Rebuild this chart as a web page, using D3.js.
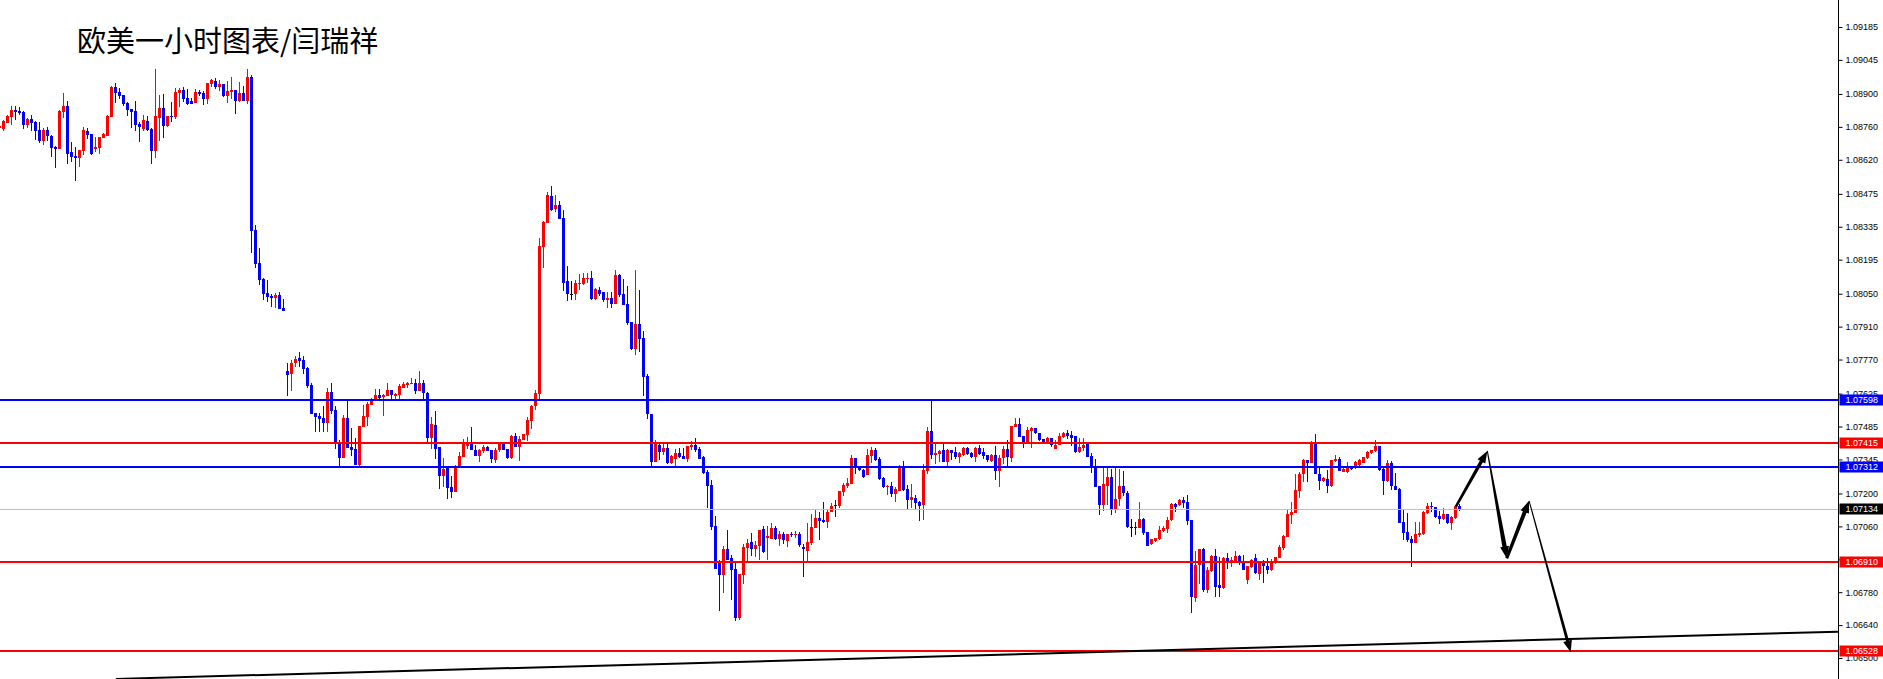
<!DOCTYPE html>
<html><head><meta charset="utf-8">
<script src="https://cdn.jsdelivr.net/npm/d3@7"></script>
<style>html,body{margin:0;padding:0;background:#fff;overflow:hidden}</style>
</head><body><svg id="c" width="1883" height="679"></svg>
<script>
// ---- data (EURUSD H1) ----
const opens=[
1.08755,1.08752,1.08778,1.08803,1.08832,1.08828,1.08823,1.08768,1.08794,1.08781,
1.08747,1.08700,1.08747,1.08721,1.08674,1.08666,1.08823,1.08849,1.08653,1.08636,
1.08628,1.08657,1.08743,1.08730,1.08666,1.08670,1.08713,1.08721,1.08802,1.08930,
1.08909,1.08896,1.08862,1.08836,1.08828,1.08772,1.08751,1.08785,1.08751,1.08657,
1.08798,1.08840,1.08764,1.08806,1.08802,1.08904,1.08917,1.08883,1.08870,1.08862,
1.08909,1.08904,1.08879,1.08943,1.08955,1.08930,1.08943,1.08891,1.08909,1.08917,
1.08870,1.08904,1.08870,1.08972,1.08321,1.08181,1.08113,1.08053,1.08040,1.08032,
1.08045,1.07989,1.07721,1.07709,1.07755,1.07777,1.07768,1.07734,1.07662,1.07543,
1.07530,1.07521,1.07500,1.07632,1.07555,1.07419,1.07351,1.07521,1.07398,1.07389,
1.07321,1.07483,1.07526,1.07577,1.07598,1.07619,1.07611,1.07615,1.07640,1.07615,
1.07619,1.07649,1.07662,1.07666,1.07670,1.07636,1.07670,1.07628,1.07436,1.07492,
1.07398,1.07274,1.07309,1.07228,1.07206,1.07313,1.07355,1.07402,1.07419,1.07385,
1.07359,1.07381,1.07398,1.07385,1.07343,1.07385,1.07415,1.07389,1.07351,1.07445,
1.07398,1.07428,1.07449,1.07509,1.07572,1.07623,1.08249,1.08351,1.08466,1.08411,
1.08428,1.08372,1.08104,1.08049,1.08049,1.08091,1.08091,1.08113,1.08117,1.08028,
1.08066,1.08057,1.08023,1.08032,1.08006,1.08130,1.08049,1.08006,1.07930,1.07815,
1.07921,1.07862,1.07700,1.07538,1.07334,1.07406,1.07377,1.07394,1.07330,1.07347,
1.07372,1.07359,1.07347,1.07398,1.07406,1.07389,1.07355,1.07292,1.07236,1.07062,
1.06904,1.06853,1.06964,1.06926,1.06879,1.06670,1.06853,1.06968,1.06994,1.06964,
1.06977,1.07049,1.07011,1.07006,1.07053,1.07006,1.07028,1.06998,1.07028,1.07023,
1.07028,1.06972,1.06955,1.06989,1.07053,1.07096,1.07087,1.07079,1.07121,1.07151,
1.07147,1.07206,1.07232,1.07240,1.07351,1.07309,1.07300,1.07279,1.07359,1.07385,
1.07347,1.07266,1.07228,1.07232,1.07198,1.07211,1.07317,1.07219,1.07172,1.07181,
1.07164,1.07151,1.07296,1.07466,1.07364,1.07368,1.07385,1.07334,1.07385,1.07377,
1.07355,1.07364,1.07394,1.07372,1.07355,1.07394,1.07377,1.07364,1.07338,1.07364,
1.07296,1.07351,1.07389,1.07351,1.07483,1.07496,1.07445,1.07419,1.07466,1.07479,
1.07457,1.07432,1.07415,1.07436,1.07389,1.07406,1.07440,1.07457,1.07449,1.07445,
1.07377,1.07394,1.07411,1.07359,1.07309,1.07232,1.07151,1.07232,1.07270,1.07130,
1.07177,1.07232,1.07202,1.07057,1.07057,1.07053,1.07092,1.07036,1.06985,1.06998,
1.07006,1.07040,1.07049,1.07087,1.07155,1.07151,1.07172,1.07164,1.07087,1.06755,
1.06896,1.06964,1.06789,1.06870,1.06934,1.06811,1.06798,1.06926,1.06909,1.06913,
1.06934,1.06909,1.06832,1.06887,1.06926,1.06857,1.06904,1.06892,1.06874,1.06904,
1.06926,1.06968,1.07015,1.07109,1.07117,1.07211,1.07283,1.07343,1.07330,1.07411,
1.07283,1.07253,1.07262,1.07232,1.07338,1.07347,1.07292,1.07292,1.07317,1.07309,
1.07321,1.07330,1.07351,1.07372,1.07381,1.07402,1.07304,1.07253,1.07330,1.07232,
1.07219,1.07079,1.07036,1.07006,1.06989,1.07023,1.07028,1.07117,1.07147,1.07143,
1.07104,1.07092,1.07113,1.07075,1.07096,1.07147];
const highs=[
1.08768,1.08789,1.08809,1.08849,1.08849,1.08845,1.08828,1.08798,1.08811,1.08785,
1.08781,1.08755,1.08760,1.08726,1.08679,1.08832,1.08904,1.08870,1.08696,1.08674,
1.08662,1.08760,1.08755,1.08730,1.08717,1.08717,1.08734,1.08811,1.08934,1.08947,
1.08926,1.08896,1.08866,1.08836,1.08870,1.08781,1.08811,1.08806,1.08755,1.09006,
1.08896,1.08900,1.08806,1.08866,1.08926,1.08926,1.08930,1.08921,1.08883,1.08921,
1.08917,1.08913,1.08947,1.08964,1.08968,1.08960,1.08943,1.08955,1.08972,1.08917,
1.08951,1.08934,1.09006,1.08981,1.08343,1.08245,1.08117,1.08109,1.08049,1.08053,
1.08057,1.08028,1.07757,1.07768,1.07785,1.07802,1.07785,1.07738,1.07670,1.07543,
1.07543,1.07572,1.07649,1.07670,1.07572,1.07428,1.07534,1.07594,1.07479,1.07436,
1.07487,1.07577,1.07589,1.07606,1.07645,1.07645,1.07623,1.07670,1.07640,1.07628,
1.07666,1.07674,1.07674,1.07692,1.07687,1.07721,1.07683,1.07632,1.07526,1.07551,
1.07398,1.07351,1.07309,1.07274,1.07321,1.07377,1.07432,1.07440,1.07483,1.07406,
1.07389,1.07406,1.07402,1.07385,1.07394,1.07415,1.07419,1.07389,1.07449,1.07457,
1.07445,1.07453,1.07526,1.07577,1.07640,1.08287,1.08360,1.08483,1.08509,1.08470,
1.08445,1.08406,1.08168,1.08104,1.08109,1.08134,1.08138,1.08138,1.08147,1.08074,
1.08079,1.08057,1.08057,1.08057,1.08151,1.08134,1.08113,1.08083,1.07930,1.08151,
1.08066,1.07891,1.07709,1.07538,1.07428,1.07419,1.07419,1.07419,1.07364,1.07389,
1.07394,1.07394,1.07402,1.07423,1.07436,1.07398,1.07359,1.07300,1.07257,1.07104,
1.06917,1.06977,1.07045,1.06938,1.06904,1.06857,1.06985,1.07006,1.07032,1.06998,
1.07045,1.07062,1.07062,1.07075,1.07062,1.07040,1.07036,1.07028,1.07036,1.07040,
1.07036,1.06985,1.07075,1.07113,1.07130,1.07121,1.07164,1.07134,1.07160,1.07172,
1.07211,1.07245,1.07266,1.07364,1.07351,1.07317,1.07304,1.07389,1.07398,1.07394,
1.07355,1.07270,1.07236,1.07249,1.07228,1.07321,1.07338,1.07236,1.07240,1.07194,
1.07168,1.07326,1.07483,1.07602,1.07411,1.07385,1.07419,1.07389,1.07385,1.07398,
1.07377,1.07398,1.07398,1.07377,1.07398,1.07406,1.07394,1.07364,1.07368,1.07402,
1.07364,1.07402,1.07428,1.07487,1.07521,1.07521,1.07445,1.07483,1.07483,1.07479,
1.07457,1.07432,1.07440,1.07436,1.07428,1.07457,1.07462,1.07470,1.07466,1.07445,
1.07436,1.07436,1.07419,1.07372,1.07347,1.07232,1.07309,1.07309,1.07304,1.07309,
1.07304,1.07296,1.07211,1.07092,1.07079,1.07164,1.07096,1.07036,1.07006,1.07011,
1.07062,1.07062,1.07100,1.07160,1.07160,1.07177,1.07185,1.07194,1.07087,1.06955,
1.06964,1.06968,1.06887,1.06938,1.06964,1.06930,1.06930,1.06947,1.06930,1.06955,
1.06938,1.06938,1.06892,1.06921,1.06943,1.06913,1.06917,1.06926,1.06921,1.06930,
1.06981,1.07023,1.07134,1.07164,1.07283,1.07292,1.07347,1.07343,1.07423,1.07453,
1.07317,1.07270,1.07300,1.07343,1.07364,1.07355,1.07309,1.07334,1.07317,1.07338,
1.07347,1.07355,1.07381,1.07385,1.07428,1.07402,1.07309,1.07343,1.07338,1.07287,
1.07223,1.07134,1.07117,1.07019,1.07079,1.07079,1.07126,1.07160,1.07164,1.07143,
1.07126,1.07138,1.07113,1.07104,1.07151,1.07155];
const lows=[
1.08747,1.08743,1.08777,1.08768,1.08789,1.08811,1.08751,1.08755,1.08743,1.08704,
1.08691,1.08683,1.08700,1.08632,1.08585,1.08666,1.08798,1.08602,1.08611,1.08530,
1.08589,1.08640,1.08709,1.08640,1.08653,1.08645,1.08713,1.08721,1.08802,1.08862,
1.08879,1.08849,1.08806,1.08755,1.08743,1.08696,1.08743,1.08743,1.08602,1.08628,
1.08700,1.08713,1.08760,1.08781,1.08794,1.08845,1.08866,1.08853,1.08857,1.08862,
1.08891,1.08853,1.08857,1.08930,1.08921,1.08913,1.08887,1.08862,1.08879,1.08815,
1.08866,1.08870,1.08857,1.08223,1.08160,1.08087,1.08023,1.08015,1.07994,1.07989,
1.07985,1.07977,1.07615,1.07636,1.07738,1.07738,1.07709,1.07649,1.07538,1.07462,
1.07462,1.07462,1.07462,1.07538,1.07389,1.07313,1.07351,1.07394,1.07359,1.07321,
1.07313,1.07483,1.07487,1.07577,1.07598,1.07602,1.07530,1.07615,1.07602,1.07602,
1.07602,1.07649,1.07649,1.07666,1.07623,1.07636,1.07598,1.07419,1.07389,1.07347,
1.07219,1.07228,1.07177,1.07181,1.07206,1.07313,1.07355,1.07389,1.07385,1.07359,
1.07334,1.07372,1.07381,1.07330,1.07330,1.07377,1.07385,1.07347,1.07347,1.07398,
1.07338,1.07428,1.07423,1.07474,1.07555,1.07598,1.08160,1.08351,1.08402,1.08398,
1.08368,1.08062,1.08019,1.08023,1.08023,1.08066,1.08087,1.08096,1.08023,1.08023,
1.08040,1.08015,1.07989,1.07989,1.08006,1.08036,1.08002,1.07917,1.07811,1.07789,
1.07800,1.07615,1.07517,1.07313,1.07334,1.07343,1.07364,1.07326,1.07326,1.07313,
1.07351,1.07347,1.07334,1.07385,1.07377,1.07347,1.07283,1.07138,1.07045,1.06879,
1.06700,1.06777,1.06917,1.06747,1.06657,1.06662,1.06815,1.06913,1.06934,1.06930,
1.06917,1.06947,1.06917,1.07006,1.07002,1.06977,1.06985,1.06972,1.07015,1.07011,
1.06972,1.06845,1.06904,1.06981,1.07053,1.07002,1.07075,1.07053,1.07121,1.07100,
1.07138,1.07189,1.07223,1.07240,1.07283,1.07296,1.07266,1.07279,1.07330,1.07338,
1.07257,1.07223,1.07194,1.07185,1.07164,1.07211,1.07211,1.07130,1.07138,1.07130,
1.07083,1.07087,1.07283,1.07347,1.07326,1.07334,1.07334,1.07313,1.07343,1.07347,
1.07330,1.07359,1.07364,1.07351,1.07334,1.07364,1.07347,1.07334,1.07334,1.07257,
1.07228,1.07326,1.07313,1.07334,1.07483,1.07440,1.07394,1.07419,1.07394,1.07453,
1.07423,1.07415,1.07411,1.07398,1.07389,1.07406,1.07436,1.07432,1.07402,1.07372,
1.07372,1.07381,1.07355,1.07287,1.07228,1.07109,1.07126,1.07151,1.07109,1.07117,
1.07147,1.07189,1.07053,1.07015,1.07023,1.07053,1.07023,1.06977,1.06981,1.06994,
1.07002,1.07036,1.07032,1.07083,1.07121,1.07147,1.07138,1.07066,1.06692,1.06738,
1.06815,1.06781,1.06777,1.06866,1.06760,1.06760,1.06794,1.06879,1.06887,1.06909,
1.06896,1.06874,1.06815,1.06883,1.06857,1.06832,1.06819,1.06857,1.06870,1.06900,
1.06926,1.06960,1.07015,1.07070,1.07117,1.07181,1.07249,1.07249,1.07330,1.07283,
1.07215,1.07249,1.07202,1.07228,1.07334,1.07296,1.07292,1.07287,1.07300,1.07304,
1.07317,1.07330,1.07347,1.07368,1.07377,1.07296,1.07194,1.07249,1.07215,1.07215,
1.07075,1.07002,1.06994,1.06887,1.06989,1.07015,1.07023,1.07113,1.07121,1.07096,
1.07070,1.07087,1.07070,1.07045,1.07092,1.07126];
const closes=[
1.08764,1.08785,1.08806,1.08832,1.08823,1.08819,1.08768,1.08794,1.08777,1.08743,
1.08700,1.08747,1.08721,1.08670,1.08666,1.08828,1.08849,1.08645,1.08632,1.08628,
1.08662,1.08747,1.08726,1.08645,1.08674,1.08717,1.08730,1.08806,1.08930,1.08904,
1.08891,1.08857,1.08832,1.08823,1.08768,1.08760,1.08789,1.08747,1.08657,1.08806,
1.08840,1.08764,1.08806,1.08802,1.08909,1.08917,1.08879,1.08857,1.08857,1.08909,
1.08900,1.08879,1.08947,1.08960,1.08930,1.08943,1.08891,1.08913,1.08917,1.08870,
1.08904,1.08870,1.08972,1.08317,1.08177,1.08109,1.08049,1.08036,1.08032,1.08045,
1.07985,1.07977,1.07704,1.07756,1.07772,1.07764,1.07730,1.07657,1.07538,1.07526,
1.07517,1.07500,1.07632,1.07551,1.07411,1.07351,1.07521,1.07394,1.07385,1.07321,
1.07487,1.07530,1.07581,1.07602,1.07619,1.07606,1.07619,1.07640,1.07619,1.07623,
1.07657,1.07666,1.07670,1.07670,1.07636,1.07670,1.07628,1.07436,1.07496,1.07389,
1.07274,1.07304,1.07223,1.07206,1.07309,1.07359,1.07415,1.07419,1.07385,1.07359,
1.07385,1.07398,1.07381,1.07347,1.07385,1.07415,1.07385,1.07351,1.07445,1.07398,
1.07432,1.07453,1.07513,1.07572,1.07628,1.08253,1.08355,1.08470,1.08406,1.08428,
1.08368,1.08096,1.08049,1.08049,1.08096,1.08096,1.08117,1.08117,1.08028,1.08070,
1.08049,1.08023,1.08032,1.08006,1.08130,1.08045,1.08002,1.07926,1.07815,1.07921,
1.07857,1.07696,1.07538,1.07334,1.07411,1.07377,1.07394,1.07330,1.07359,1.07372,
1.07355,1.07347,1.07402,1.07406,1.07385,1.07347,1.07287,1.07232,1.07057,1.06879,
1.06853,1.06964,1.06917,1.06874,1.06670,1.06857,1.06972,1.06989,1.06964,1.06981,
1.07045,1.06951,1.07019,1.07053,1.07006,1.07028,1.07002,1.07028,1.07023,1.07028,
1.06981,1.06964,1.06994,1.07057,1.07096,1.07083,1.07079,1.07121,1.07147,1.07147,
1.07211,1.07236,1.07245,1.07351,1.07309,1.07300,1.07270,1.07364,1.07385,1.07343,
1.07262,1.07228,1.07232,1.07198,1.07219,1.07317,1.07215,1.07172,1.07185,1.07160,
1.07147,1.07300,1.07466,1.07364,1.07372,1.07381,1.07334,1.07385,1.07372,1.07355,
1.07372,1.07394,1.07368,1.07355,1.07394,1.07368,1.07359,1.07343,1.07364,1.07296,
1.07351,1.07389,1.07355,1.07487,1.07496,1.07440,1.07419,1.07470,1.07479,1.07457,
1.07428,1.07415,1.07436,1.07406,1.07406,1.07445,1.07457,1.07445,1.07436,1.07377,
1.07398,1.07406,1.07355,1.07309,1.07228,1.07151,1.07240,1.07270,1.07130,1.07177,
1.07232,1.07202,1.07057,1.07057,1.07053,1.07092,1.07032,1.06977,1.07006,1.07011,
1.07045,1.07053,1.07087,1.07155,1.07143,1.07172,1.07160,1.07083,1.06760,1.06896,
1.06964,1.06789,1.06874,1.06934,1.06802,1.06798,1.06926,1.06909,1.06917,1.06934,
1.06909,1.06874,1.06892,1.06917,1.06862,1.06904,1.06892,1.06874,1.06909,1.06930,
1.06972,1.07019,1.07113,1.07121,1.07215,1.07283,1.07343,1.07330,1.07411,1.07283,
1.07253,1.07266,1.07232,1.07343,1.07347,1.07296,1.07304,1.07317,1.07304,1.07334,
1.07343,1.07355,1.07377,1.07385,1.07402,1.07300,1.07253,1.07330,1.07232,1.07215,
1.07075,1.07032,1.07002,1.06989,1.07028,1.07032,1.07121,1.07147,1.07143,1.07100,
1.07092,1.07113,1.07075,1.07100,1.07147,1.07134];

const tickLabels=["1.09185","1.09045","1.08900","1.08760","1.08620","1.08475","1.08335","1.08195",
"1.08050","1.07910","1.07770","1.07625","1.07485","1.07345","1.07200","1.07060","1.06920",
"1.06780","1.06640","1.06500"];
const levelPrices=[1.07598,1.07415,1.07312,1.07134,1.06910,1.06528];
const levelKinds=["blue","red","blue","bid","red","red"];
const trendIdx=[29.1,459.6], trendPx=[1.06411,1.06612];
const arrowIdx=[364.1,371.95,376.8,382.4,392.8];
const arrowPx=[1.07144,1.07381,1.06924,1.07169,1.06524];
const titleText="欧美一小时图表/闫瑞祥";

// ---- drawing ----
const W=1883,H=679,AX=1838.5;
const svg=d3.select("#c");
const x=d3.scaleLinear().domain([0,365]).range([-0.5,1459.5]);
const y=d3.scaleLinear().domain([1.065,1.09185]).range([658,27]);
const lineCol={blue:"#0000ff",red:"#ff0000",bid:"#c0c0c0"};
const boxCol={blue:"#0000ff",red:"#ff0000",bid:"#000000"};

// bid (gray) line first
const gL=svg.append("g");
levelPrices.forEach((p,k)=>{
  const kind=levelKinds[k];
  if(kind!=="bid") return;
  const yy=Math.round(y(p))+0.5;
  gL.append("line").attr("x1",0).attr("x2",AX).attr("y1",yy).attr("y2",yy)
    .attr("stroke",lineCol[kind]).attr("stroke-width",1);
});

// candles
const idx=d3.range(opens.length);
const colOf=i=>closes[i]>opens[i]?"#ff0000":closes[i]<opens[i]?"#0000ff":"#000000";
const gC=svg.append("g").attr("shape-rendering","crispEdges");
gC.selectAll("rect.wick").data(idx).join("rect").attr("class","wick")
  .attr("x",i=>Math.round(x(i)-0.5))
  .attr("y",i=>Math.round(y(highs[i])))
  .attr("width",1)
  .attr("height",i=>Math.max(1,Math.round(y(lows[i]))-Math.round(y(highs[i]))))
  .attr("fill",colOf);
gC.selectAll("rect.body").data(idx).join("rect").attr("class","body")
  .attr("x",i=>Math.round(x(i)-0.5)-1)
  .attr("y",i=>Math.round(y(Math.max(opens[i],closes[i]))))
  .attr("width",3)
  .attr("height",i=>Math.max(1,Math.round(y(Math.min(opens[i],closes[i])))-Math.round(y(Math.max(opens[i],closes[i])))))
  .attr("fill",colOf);

// coloured horizontal levels
levelPrices.forEach((p,k)=>{
  const kind=levelKinds[k];
  if(kind==="bid") return;
  const yy=Math.round(y(p));
  gL.append("rect").attr("x",0).attr("width",AX).attr("y",yy-1).attr("height",2)
    .attr("fill",lineCol[kind]).attr("shape-rendering","crispEdges");
});
svg.node().appendChild(gL.node()); // levels on top of candles

// trend line
svg.append("line")
  .attr("x1",x(trendIdx[0])).attr("y1",y(trendPx[0]))
  .attr("x2",x(trendIdx[1])).attr("y2",y(trendPx[1]))
  .attr("stroke","#000").attr("stroke-width",2);

// arrows (tapered shafts with heads)
const shaft=[[2.5,3.5],[1,4.5],[3,4],[1,3]];
function arrowPoly(x0,y0,x1,y1,w0,w1,hl,hw){
  const dx=x1-x0,dy=y1-y0,L=Math.hypot(dx,dy),ux=dx/L,uy=dy/L,nx=-uy,ny=ux;
  const hx=x1-ux*hl,hy=y1-uy*hl;
  return [[x0+nx*w0/2,y0+ny*w0/2],[hx+nx*w1/2,hy+ny*w1/2],[hx+nx*hw/2,hy+ny*hw/2],[x1,y1],
          [hx-nx*hw/2,hy-ny*hw/2],[hx-nx*w1/2,hy-ny*w1/2],[x0-nx*w0/2,y0-ny*w0/2]];
}
const gArr=svg.append("g");
for(let k=0;k<arrowIdx.length-1;k++){
  const pts=arrowPoly(x(arrowIdx[k]),y(arrowPx[k]),x(arrowIdx[k+1]),y(arrowPx[k+1]),
                      shaft[k][0],shaft[k][1],12,9);
  gArr.append("path").attr("d","M"+pts.map(p=>p.join(",")).join("L")+"Z").attr("fill","#000");
}

// right price axis
const ax=d3.axisRight(y).tickValues(tickLabels.map(Number)).tickSize(4).tickPadding(3)
  .tickFormat((d,i)=>tickLabels[i]);
const gA=svg.append("g").attr("transform",`translate(${AX},0)`).call(ax)
  .attr("font-family","'Liberation Sans', Arial, sans-serif").attr("font-size",9);
gA.select(".domain").remove();
gA.selectAll(".tick line").attr("stroke","#000");
gA.selectAll(".tick text").attr("fill","#000");
svg.append("line").attr("x1",AX).attr("x2",AX).attr("y1",0).attr("y2",H)
  .attr("stroke","#000").attr("stroke-width",1).attr("shape-rendering","crispEdges");

// price boxes
const gB=svg.append("g");
levelPrices.forEach((p,k)=>{
  const yy=y(p), kind=levelKinds[k];
  gB.append("rect").attr("x",AX+1).attr("y",Math.round(yy)-5.5).attr("width",W-AX).attr("height",11)
    .attr("fill",boxCol[kind]);
  gB.append("text").attr("x",AX+7).attr("y",Math.round(yy)).attr("dy","0.34em")
    .attr("font-family","'Liberation Sans', Arial, sans-serif").attr("font-size",9)
    .attr("fill","#fff").text(p.toFixed(5));
});

// title
svg.append("text").attr("x",77).attr("y",51.5)
  .attr("font-family","'Noto Sans CJK SC','Noto Sans CJK JP',sans-serif").attr("font-size",29)
  .attr("fill","#000").text(titleText);
</script>
</body></html>
